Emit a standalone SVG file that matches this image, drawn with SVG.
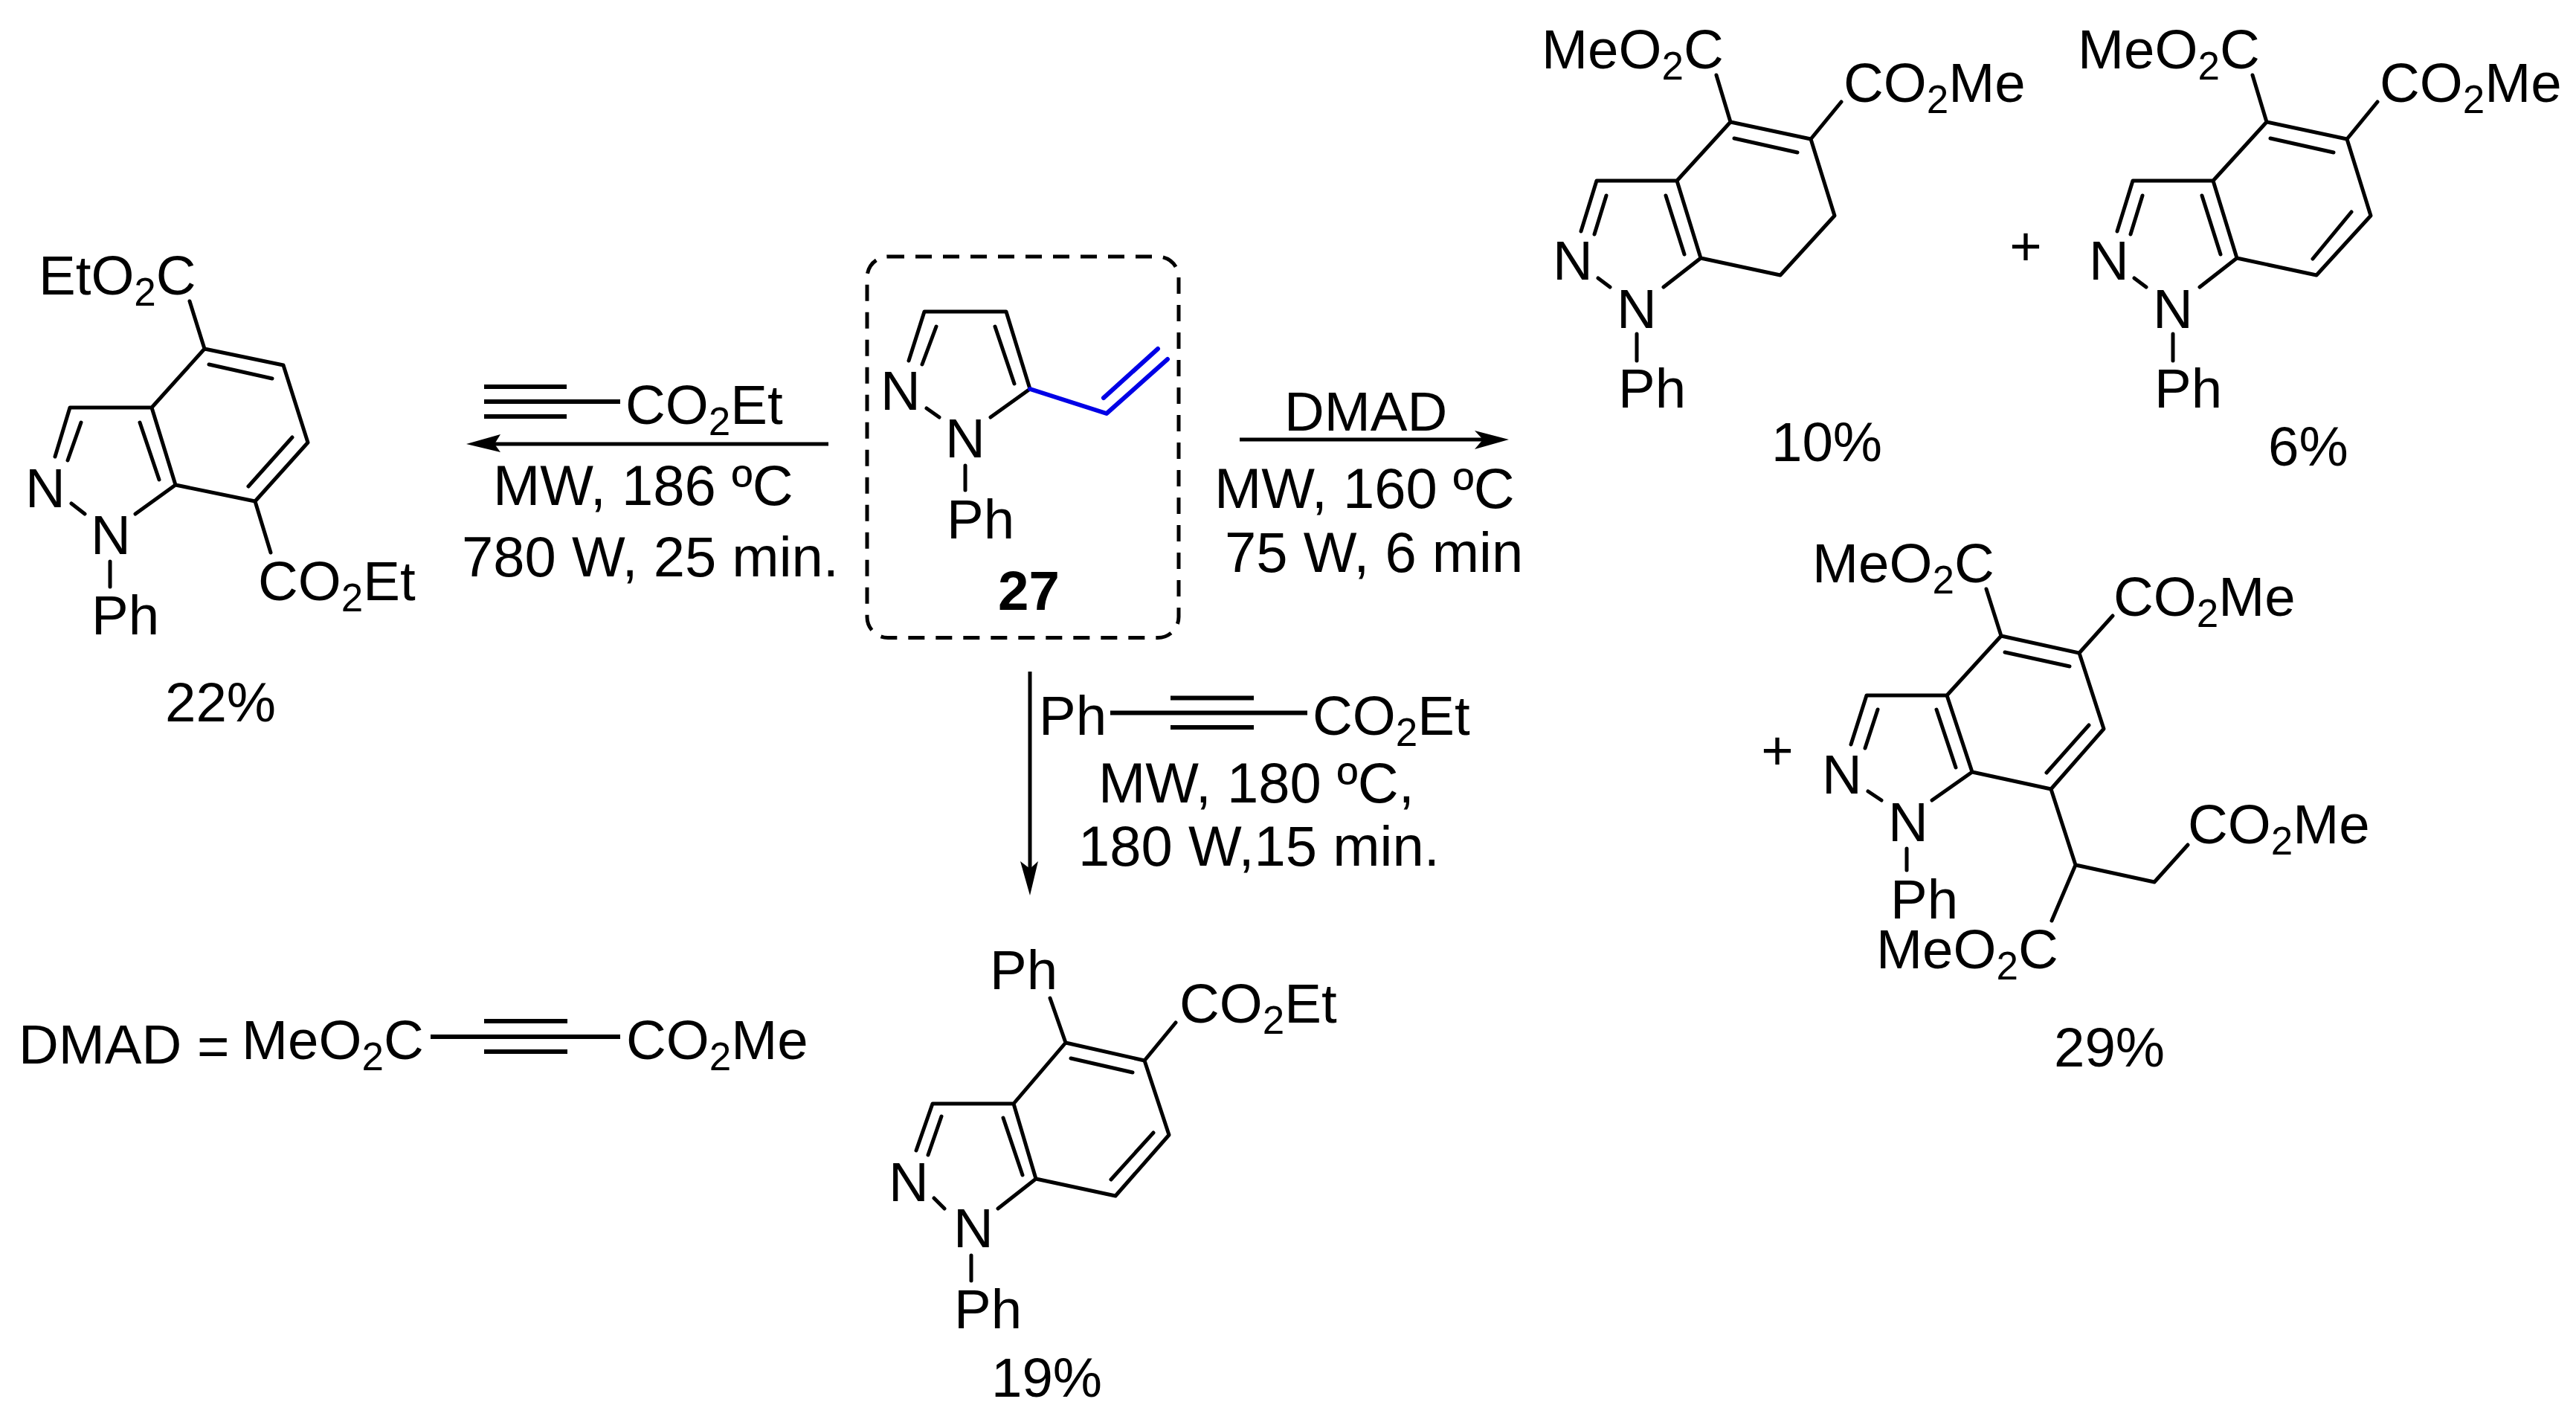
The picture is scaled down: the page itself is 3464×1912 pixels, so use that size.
<svg xmlns="http://www.w3.org/2000/svg" width="3464" height="1912" viewBox="0 0 3464 1912">
<style>
text{font-family:"Liberation Sans",Arial,sans-serif;font-size:74.500px;fill:#000}
text.c{font-size:76px}
.s{font-size:53px}
.b{fill:none;stroke:#000;stroke-width:5;stroke-linejoin:round;stroke-linecap:round}
.v{fill:none;stroke:#0000e6;stroke-width:6;stroke-linejoin:round;stroke-linecap:round}
.a{fill:none;stroke:#000;stroke-width:5}
.t{fill:none;stroke:#000;stroke-width:6}
.h{fill:#000;stroke:none}
.d{fill:none;stroke:#000;stroke-width:5;stroke-dasharray:22 15}
.m{font-weight:bold}
</style>
<rect width="3464" height="1912" fill="#fff"/>
<g id="connectors">
<path class="a" d="M1114 597H660"/><path class="h" d="M627 597L673 584L665 597L673 608Z"/>
<path class="a" d="M1667 591H2000"/><path class="h" d="M2029 591L1983 579L1994 591L1983 604Z"/>
<path class="a" d="M1385 903V1175"/><path class="h" d="M1385 1204L1372 1158L1385 1168L1396 1158Z"/>
</g>
<g id="product-22">
<path class="b" d="M255 405L275 469L381 491L414 595L343 674L236 652L204 548L275 469M204 548H94L74 614M109 568L91 619M188 568L214 645M281 490L366 509M393 588L334 654M96 677L114 691M236 652L182 691M148 755V789M343 674L364 743"/>
<text x="52" y="396">EtO<tspan class="s" dy="15">2</tspan><tspan dy="-15">C</tspan></text>
<text x="34" y="682">N</text><text x="122" y="745">N</text><text x="123" y="853">Ph</text>
<text x="347" y="807">CO<tspan class="s" dy="15">2</tspan><tspan dy="-15">Et</tspan></text>
<text x="222" y="970">22%</text>
</g>
<g id="reagent-ethyl-propiolate">
<path class="t" d="M651 520H762M651 540H834M651 560H762"/>
<text x="841" y="570">CO<tspan class="s" dy="15">2</tspan><tspan dy="-15">Et</tspan></text>
<text class="c" x="663" y="679">MW, 186 ºC</text>
<text class="c" x="621" y="775">780 W, 25 min.</text>
</g>
<g id="compound-27">
<rect class="d" x="1166" y="345" width="419" height="512.500" rx="28" ry="28"/>
<path class="b" d="M1222 485L1243 419H1353L1385 523L1332 561M1259 439L1240 490M1338 439L1364 516M1246 549L1263 561M1298 626V659"/>
<path class="v" d="M1385 523L1488 556L1570 483M1484 535L1557 469"/>
<text x="1184" y="551">N</text><text x="1271" y="615">N</text><text x="1273" y="724">Ph</text>
<text class="m" x="1342" y="820">27</text>
</g>
<g id="conditions-dmad">
<text x="1727" y="579">DMAD</text>
<text class="c" x="1633" y="683">MW, 160 ºC</text>
<text class="c" x="1647" y="769">75 W, 6 min</text>
</g>
<g id="reagent-ethyl-phenylpropiolate">
<path class="t" d="M1493 958.500H1758M1574 938.500H1686M1574 978H1686"/>
<text x="1397" y="988">Ph</text>
<text x="1765" y="988">CO<tspan class="s" dy="15">2</tspan><tspan dy="-15">Et</tspan></text>
<text class="c" x="1477" y="1079">MW, 180 ºC,</text>
<text class="c" x="1450" y="1164">180 W,15 min.</text>
</g>
<g id="product-10">
<path class="b" d="M2308 101L2327 164L2435 187L2467 290L2394 370L2287 347L2255 243L2327 164M2435 187L2476 137M2332 186L2417 205M2255 243H2147L2126 311M2160 263L2144 315M2240 263L2265 342M2149 374L2165 386M2287 347L2237 386M2201 449V485"/>
<text x="2073" y="92">MeO<tspan class="s" dy="15">2</tspan><tspan dy="-15">C</tspan></text>
<text x="2479" y="137">CO<tspan class="s" dy="15">2</tspan><tspan dy="-15">Me</tspan></text>
<text x="2088" y="376">N</text><text x="2174" y="441">N</text><text x="2176" y="548">Ph</text>
<text x="2382" y="620">10%</text>
</g>
<text id="plus-1" x="2724" y="357" text-anchor="middle">+</text>
<g id="product-6">
<path class="b" d="M3029 101L3048 164L3156 187L3188 290L3115 370L3008 347L2976 243L3048 164M3156 187L3197 137M3053 186L3138 205M2976 243H2868L2847 311M2881 263L2865 315M2961 263L2986 342M2870 374L2886 386M3008 347L2958 386M2922 449V485M3162 285L3110 348"/>
<text x="2794" y="92">MeO<tspan class="s" dy="15">2</tspan><tspan dy="-15">C</tspan></text>
<text x="3200" y="137">CO<tspan class="s" dy="15">2</tspan><tspan dy="-15">Me</tspan></text>
<text x="2809" y="376">N</text><text x="2895" y="441">N</text><text x="2897" y="548">Ph</text>
<text x="3050" y="626">6%</text>
</g>
<text id="plus-2" x="2390" y="1035" text-anchor="middle">+</text>
<g id="product-29">
<path class="b" d="M2671 792L2691 855L2796 878L2829 980L2758 1061L2652 1038L2618 935L2691 855M2796 878L2841 828M2696 877L2783 896M2618 935H2510L2489 1001M2525 954L2508 1006M2604 954L2630 1032M2809 975L2752 1039M2512 1064L2530 1076M2652 1038L2598 1076M2564 1141V1170M2758 1061L2791 1163L2897 1186L2942 1136M2791 1163L2759 1238"/>
<text x="2437" y="783">MeO<tspan class="s" dy="15">2</tspan><tspan dy="-15">C</tspan></text>
<text x="2842" y="828">CO<tspan class="s" dy="15">2</tspan><tspan dy="-15">Me</tspan></text>
<text x="2450" y="1067">N</text><text x="2539" y="1131">N</text><text x="2542" y="1235">Ph</text>
<text x="2523" y="1302">MeO<tspan class="s" dy="15">2</tspan><tspan dy="-15">C</tspan></text>
<text x="2942" y="1134">CO<tspan class="s" dy="15">2</tspan><tspan dy="-15">Me</tspan></text>
<text x="2762" y="1434">29%</text>
</g>
<g id="dmad-definition">
<path class="t" d="M579 1394H834M651 1373H763M651 1414H763"/>
<text x="25" y="1430">DMAD</text>
<text x="265" y="1432">=</text>
<text x="325" y="1424">MeO<tspan class="s" dy="15">2</tspan><tspan dy="-15">C</tspan></text>
<text x="842" y="1424">CO<tspan class="s" dy="15">2</tspan><tspan dy="-15">Me</tspan></text>
</g>
<g id="product-19">
<path class="b" d="M1412 1342L1433 1402L1539 1426L1572 1526L1500 1608L1393 1585L1363 1484L1433 1402M1539 1426L1581 1375M1440 1423L1523 1442M1363 1484H1254L1232 1547M1266 1501L1248 1553M1349 1503L1375 1580M1551 1523L1494 1586M1256 1611L1270 1625M1393 1585L1342 1625M1306 1688V1722"/>
<text x="1331" y="1330">Ph</text>
<text x="1586" y="1375">CO<tspan class="s" dy="15">2</tspan><tspan dy="-15">Et</tspan></text>
<text x="1195" y="1615">N</text><text x="1282" y="1677">N</text><text x="1283" y="1786">Ph</text>
<text x="1333" y="1878">19%</text>
</g>
</svg>
